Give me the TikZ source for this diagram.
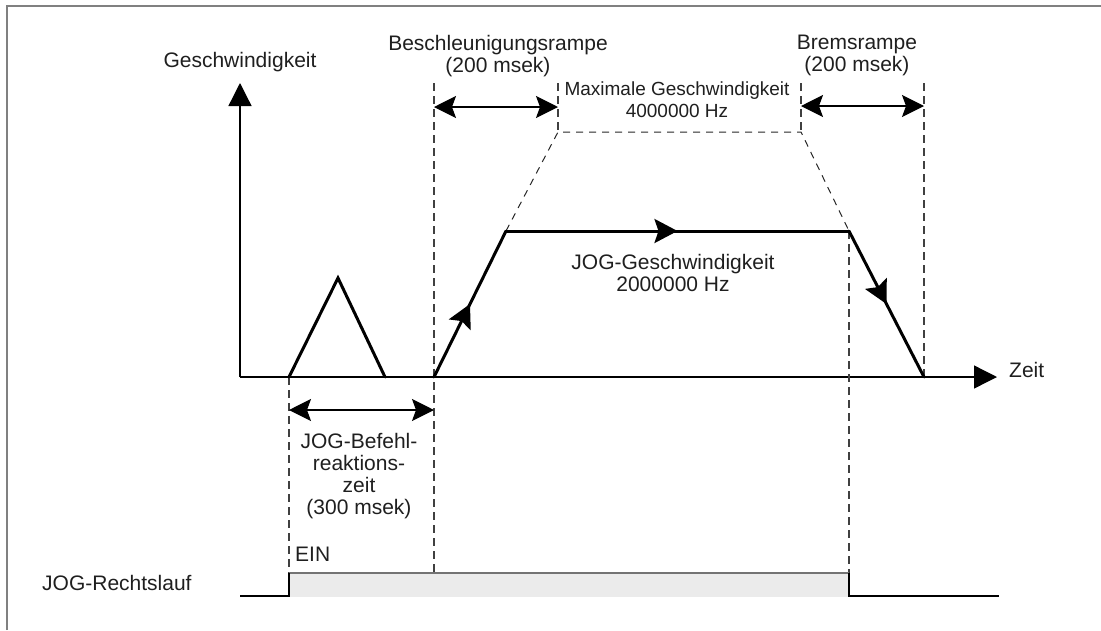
\documentclass[tikz,border=0pt]{standalone}
\usepackage{fontspec}
\setmainfont{Liberation Sans}
\usepackage{tikz}
\usetikzlibrary{arrows.meta}
\usetikzlibrary{decorations.markings}
\tikzset{t/.style={font=\fontsize{21}{22}\selectfont, text=black!88, inner sep=0pt}}
\tikzset{n/.style={font=\fontsize{19}{22}\selectfont, text=black!88, inner sep=0pt}}
\tikzset{ax/.style={line width=1.3pt, -{Triangle[length=23pt,width=23pt]}}}
\tikzset{pr/.style={line width=3pt, line cap=round}}
\tikzset{mid/.style={postaction={decorate}, decoration={markings,
  mark=at position .5 with {\arrow{Stealth[length=23pt,width=24pt,inset=4pt]}}}}}
\tikzset{dl/.style={line width=1.2pt, black!75, dash pattern=on 8pt off 5pt}}
\tikzset{gl/.style={line width=1pt, black!85, dash pattern=on 7pt off 6pt}}
\tikzset{dimarr/.style={line width=1.2pt,
  {Stealth[length=22pt,width=22pt,inset=4pt]}-{Stealth[length=22pt,width=22pt,inset=4pt]}}}

\begin{document}
\begin{tikzpicture}[x=1pt, y=-1pt]
    \useasboundingbox (0,0) rectangle (1101,630);
    \draw[line width=1.5pt, black!50] (7,630) |- (1101,6);

    \coordinate (O) at (240,377);
    \coordinate (Y) at (240,83);
    \coordinate (X) at (997,377);
    \coordinate (T1) at (289,377);
    \coordinate (T2) at (338,278);
    \coordinate (T3) at (385,377);
    \coordinate (R0) at (434,377);
    \coordinate (R1) at (506,231);
    \coordinate (R2) at (849,231);
    \coordinate (R3) at (924,377);
    \coordinate (M1) at (558,132);
    \coordinate (M2) at (801,132);

    \draw[ax] (O) -- (Y);
    \draw[ax] (O) -- (X);

    \draw[gl] (R1) -- (M1) -- (M2) -- (R2);
    \draw[dl] (289,377) -- (289,573);
    \draw[dl] (434,83) -- (434,573);
    \draw[dl] (558,83) -- (M1);
    \draw[dl] (801,83) -- (M2);
    \draw[dl] (R2) -- (849,573);
    \draw[dl] (924,83) -- (R3);

    \draw[pr, line join=miter] (T1) -- (T2) -- (T3);
    \draw[pr, mid] (R0) -- (R1);
    \draw[pr, mid] (R1) -- (R2);
    \draw[pr, mid] (R2) -- (R3);

    \draw[dimarr] (289,410) -- (434,410);
    \draw[dimarr] (434,107) -- (558,107);
    \draw[dimarr] (801,106) -- (924,106);

    \coordinate (S0) at (240,596);
    \coordinate (S1) at (289,596);
    \coordinate (S2) at (289,573);
    \coordinate (S3) at (849,573);
    \coordinate (S4) at (849,596);
    \coordinate (S5) at (999,596);
    \fill[black!8] (S2) rectangle (849,597);
    \draw[line width=2pt, black!55] (S2) -- (S3);
    \draw[line width=1.3pt] (S0) -- (S1) -- (S2);
    \draw[line width=1.3pt] (S3) -- (S4) -- (S5);

    \node[t, anchor=base] (v) at (240,67) {Geschwindigkeit};
    \node[t, anchor=base west] (z) at (1009,377) {Zeit};
    \node[t, anchor=base, align=center] (ba) at (498,72) {Beschleunigungsrampe\\(200 msek)};
    \node[t, anchor=base, align=center] (br) at (857,71) {Bremsrampe\\(200 msek)};
    \node[n, anchor=base, align=center] (vm) at (677,117) {Maximale Geschwindigkeit\\4000000 Hz};
    \node[t, anchor=base, align=center] (vj) at (673,291) {JOG-Geschwindigkeit\\2000000 Hz};
    \node[t, anchor=base, align=center] (rz) at (359,514) {JOG-Befehl-\\reaktions-\\zeit\\(300 msek)};
    \node[t, anchor=base west] (ein) at (295,561) {EIN};
    \node[t, anchor=base west] (rl) at (42,590) {JOG-Rechtslauf};
\end{tikzpicture}
\end{document}
